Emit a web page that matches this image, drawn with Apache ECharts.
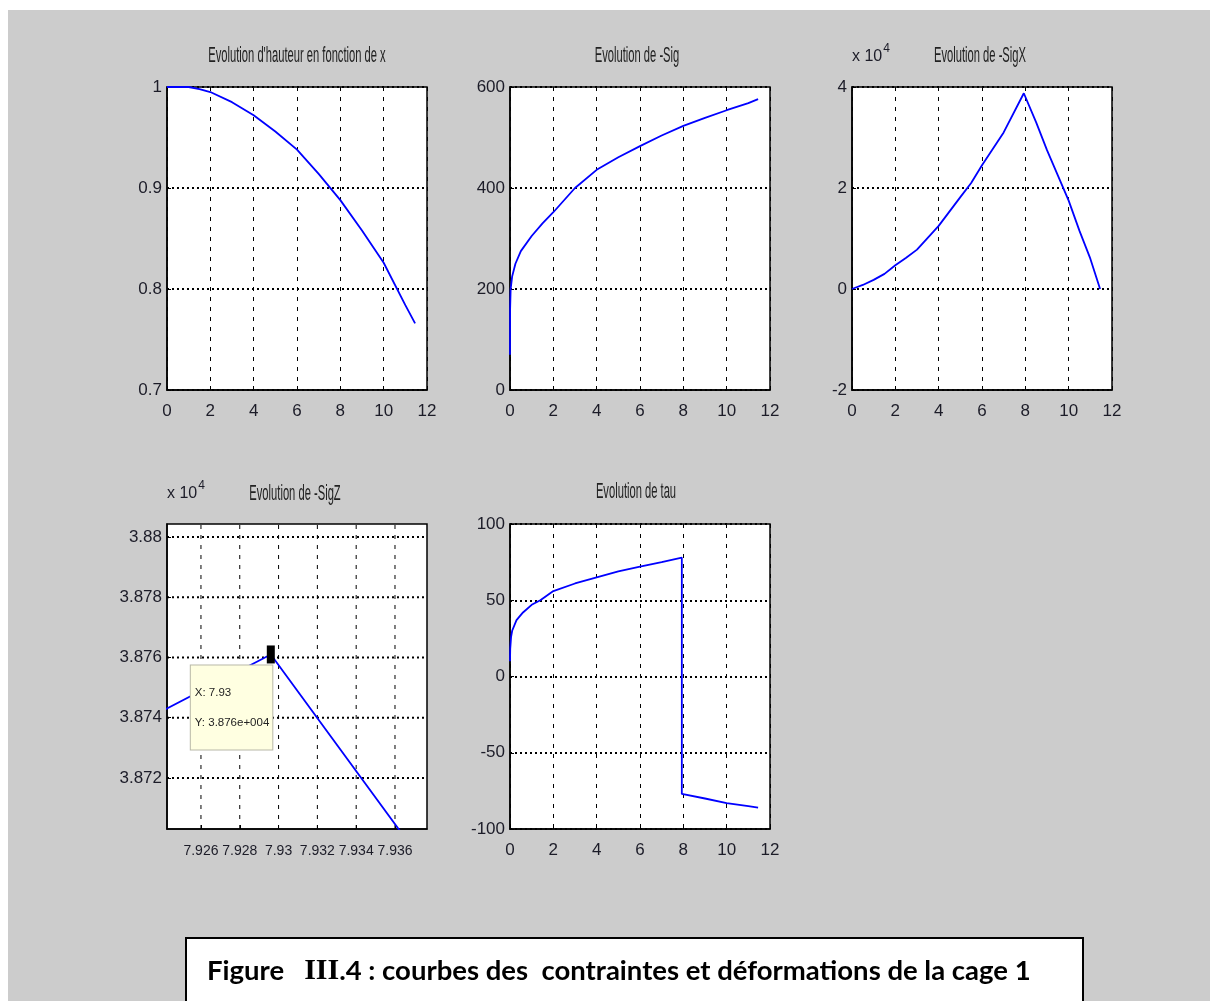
<!DOCTYPE html>
<html><head><meta charset="utf-8">
<script src="https://cdn.jsdelivr.net/npm/echarts@6/dist/echarts.min.js"></script>
<style>
html,body{margin:0;padding:0;background:#fff;}
#bg{position:absolute;left:8px;top:10px;width:1202px;height:991px;background:#cccccc;}
#c{position:absolute;left:0;top:0;width:1218px;height:1001px;}
</style>
</head><body><div id="bg"></div><div id="c"></div>
<script>
// ---- data ----
const titles = ["Evolution d'hauteur en fonction de x", "Evolution de -Sig", "Evolution de -SigX", "Evolution de -SigZ", "Evolution de tau"];

const hX = [0, 0.5, 1, 1.5, 2, 3, 4, 5, 6, 7, 8, 9, 10, 11, 11.45];
const hY = [1, 1, 1, 0.998, 0.995, 0.985, 0.972, 0.956, 0.938, 0.914, 0.888, 0.858, 0.826, 0.784, 0.766];

const sigX = [0, 0.005, 0.03, 0.1, 0.25, 0.5, 1, 1.5, 2, 3, 4, 5, 6, 7, 8, 9, 10, 11, 11.45];
const sigY = [70, 160, 200, 225, 250, 275, 305, 330, 352, 400, 436, 461, 483, 504, 523, 539, 554, 568, 576];

const sigXx = [0, 0.5, 1, 1.5, 2, 2.5, 3, 4, 5, 5.5, 6, 7, 7.93, 8.5, 9, 9.5, 10, 10.5, 11, 11.45];
const sigXy = [0, 0.08, 0.18, 0.3, 0.47, 0.62, 0.78, 1.25, 1.82, 2.1, 2.45, 3.1, 3.876, 3.3, 2.75, 2.25, 1.75, 1.15, 0.6, 0];

const sigZx = [7.9200, 7.9296, 7.9400];
const sigZy = [3.87288, 3.8761, 3.86695];
const sigZxTicks = [7.926, 7.928, 7.930, 7.932, 7.934, 7.936];
const sigZyTicks = [3.872, 3.874, 3.876, 3.878, 3.880];
const sigZxRange = [7.92425, 7.93765];
const sigZyRange = [3.870307, 3.88043];
const tipPoint = [7.9296, 3.8761];
const tipText = 'X: 7.93\nY: 3.876e+004';

const tauX = [0, 0.01, 0.05, 0.1, 0.3, 0.6, 1, 1.4, 2, 3, 4, 5, 6, 7, 7.93, 7.93, 8, 9, 10, 11, 11.45];
const tauY = [10, 18, 26, 30, 37, 42, 47, 50, 56, 61, 65, 69, 72, 75, 78, -77, -78, -80, -83, -85, -86];

const captionParts = ['Figure   ', 'III', '.4 : courbes des  contraintes et déformations de la cage 1'];

// ---- helpers ----
const zip = (a, b) => a.map((v, i) => [v, b[i]]);
const FONT = '"Liberation Sans", Arial, sans-serif';
const LBL = '#1c1c28';
const VDASH = {color: '#000', type: [4, 6], width: 1};
const HDOT = {color: '#000', type: [2, 3], width: 2};

const grids = [
  {left: 167, top: 87, width: 260, height: 303},
  {left: 510, top: 87, width: 260, height: 303},
  {left: 852, top: 87, width: 260, height: 303},
  {left: 167, top: 524, width: 260, height: 305},
  {left: 510, top: 524, width: 260, height: 305}
].map(g => Object.assign({show: true, backgroundColor: '#ffffff', borderColor: '#000', borderWidth: 1.5}, g));

function xAxis(i, extra) {
  return Object.assign({
    type: 'value', gridIndex: i, min: 0, max: 12, interval: 2,
    axisLine: {show: true, onZero: false, lineStyle: {color: '#000', width: 1.5}},
    axisTick: {show: true, inside: true, length: 4, lineStyle: {color: '#000'}},
    axisLabel: {color: LBL, fontFamily: FONT, fontSize: 17, margin: 13},
    splitLine: {show: true, lineStyle: VDASH}
  }, extra || {});
}
function yAxis(i, extra) {
  return Object.assign({
    type: 'value', gridIndex: i,
    axisLine: {show: true, onZero: false, lineStyle: {color: '#000', width: 1.5}},
    axisTick: {show: true, inside: true, length: 4, lineStyle: {color: '#000'}},
    axisLabel: {color: LBL, fontFamily: FONT, fontSize: 17, margin: 5},
    splitLine: {show: true, lineStyle: HDOT}
  }, extra || {});
}
const expName = {
  name: '{a|x 10}{b|4}', nameLocation: 'end', nameGap: 16,
  nameTextStyle: {align: 'left', rich: {
    a: {fontFamily: FONT, fontSize: 16, color: LBL},
    b: {fontFamily: FONT, fontSize: 12, color: LBL, padding: [0, 0, 16, 1]}
  }}
};
const fmtZ = v => String(parseFloat(v.toFixed(3)));

const line = (i, data, extra) => Object.assign({
  type: 'line', xAxisIndex: i, yAxisIndex: i, data: data, showSymbol: false, symbol: 'none',
  lineStyle: {color: '#0000ff', width: 1.8}, animation: false, silent: true, clip: true, z: 3
}, extra || {});

// grid lines of the zoomed panel, drawn from its tick arrays
const zGrid = sigZxTicks.map(v => line(3, [[v, sigZyRange[0]], [v, sigZyRange[1]]], {lineStyle: VDASH, z: 2}))
  .concat(sigZyTicks.map(v => line(3, [[sigZxRange[0], v], [sigZxRange[1], v]], {lineStyle: HDOT, z: 2})));

const titleCenters = [[297, 56], [637, 56], [980, 56], [295, 494], [636, 492]];

const option = {
  animation: false,
  grid: grids,
  xAxis: [
    xAxis(0), xAxis(1), xAxis(2),
    xAxis(3, {min: sigZxRange[0], max: sigZxRange[1], interval: null, splitLine: {show: false},
      axisLabel: {color: LBL, fontFamily: FONT, fontSize: 14, margin: 15, customValues: sigZxTicks,
        showMinLabel: true, showMaxLabel: true, hideOverlap: false, interval: 0, formatter: v => fmtZ(v)},
      axisTick: {show: true, inside: true, length: 4, customValues: sigZxTicks, lineStyle: {color: '#000'}}}),
    xAxis(4)
  ],
  yAxis: [
    yAxis(0, {min: 0.7, max: 1, interval: 0.1}),
    yAxis(1, {min: 0, max: 600, interval: 200}),
    yAxis(2, Object.assign({min: -2, max: 4, interval: 2}, expName)),
    yAxis(3, Object.assign({min: sigZyRange[0], max: sigZyRange[1], splitLine: {show: false},
      axisLabel: {color: LBL, fontFamily: FONT, fontSize: 17, margin: 5, customValues: sigZyTicks,
        showMinLabel: true, showMaxLabel: true, hideOverlap: false, formatter: v => fmtZ(v)},
      axisTick: {show: true, inside: true, length: 4, customValues: sigZyTicks, lineStyle: {color: '#000'}}}, expName)),
    yAxis(4, {min: -100, max: 100, interval: 50})
  ],
  series: [
    line(0, zip(hX, hY)),
    line(1, zip(sigX, sigY)),
    line(2, zip(sigXx, sigXy)),
    line(3, zip(sigZx, sigZy), {
      markPoint: {
        silent: true, animation: false,
        data: [{coord: tipPoint, symbol: 'rect', symbolSize: [8, 18], itemStyle: {color: '#000'},
          label: {show: true, formatter: tipText, position: [-76, 20], align: 'left', verticalAlign: 'top',
            fontFamily: FONT, fontSize: 11.5, color: '#222', lineHeight: 30,
            backgroundColor: '#ffffe1', borderColor: '#b8b8a8', borderWidth: 1,
            padding: [12, 3, 12, 4]}}]
      }
    }),
    line(4, zip(tauX, tauY))
  ].concat(zGrid),
  graphic: titles.map((t, i) => ({
    type: 'text', x: titleCenters[i][0], y: titleCenters[i][1], scaleX: 0.86, scaleY: 1.7, z: 10,
    style: {text: t, font: '13px ' + FONT, fill: '#222', textAlign: 'center', textVerticalAlign: 'middle'}
  })).concat([
    {type: 'rect', shape: {x: 186, y: 938, width: 897, height: 70}, z: 10,
     style: {fill: '#fff', stroke: '#000', lineWidth: 2}},
    {type: 'text', x: 207, y: 971, z: 11,
     style: {
       text: '{f|' + captionParts[0] + '}{r|' + captionParts[1] + '}{f|' + captionParts[2] + '}',
       textVerticalAlign: 'middle',
       rich: {
         f: {fontFamily: 'Lato, "Open Sans", sans-serif', fontWeight: 'bold', fontSize: 27.5, fill: '#000'},
         r: {fontFamily: '"Liberation Serif", serif', fontWeight: 'bold', fontSize: 30, fill: '#000'}
       }
     }}
  ])
};

const chart = echarts.init(document.getElementById('c'), null, {renderer: 'canvas'});
chart.setOption(option);
</script>
</body></html>
